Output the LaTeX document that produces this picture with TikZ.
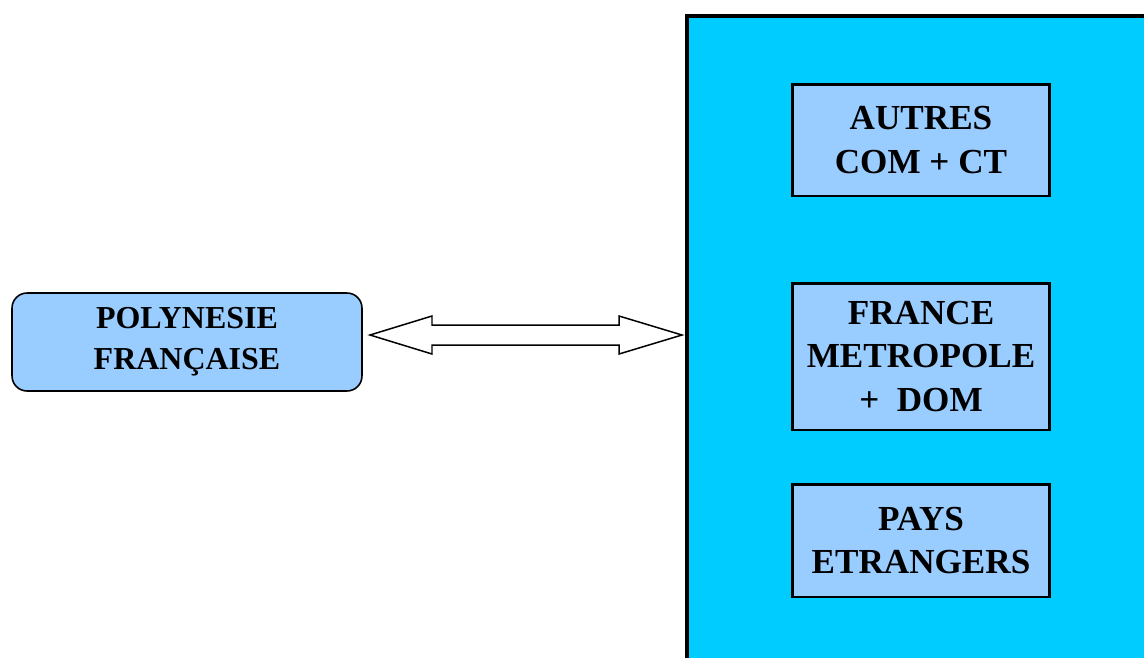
\documentclass[tikz,border=0pt]{standalone}
\usepackage{fontspec}
\setmainfont{Liberation Serif}
\usetikzlibrary{positioning}
\definecolor{zone}{HTML}{00CCFF}
\definecolor{pale}{HTML}{99CCFF}
\begin{document}
\begin{tikzpicture}[x=0.02cm, y=-0.02cm,
		box/.style = {draw, fill=pale, line width=1.7pt, minimum width=5.16cm, align=center, font=\fontsize{20}{25}\selectfont\bfseries},
		home/.style = {draw, fill=pale, line width=0.9pt, rounded corners=0.3cm, minimum width=7cm, minimum height=1.96cm, align=center, font=\fontsize{18.2}{23.5}\selectfont\bfseries}] 
		\useasboundingbox (0,0) rectangle (1144,657);
		\fill[zone] (687,16) rectangle (1150,665);
		\draw[line width=1.9pt] (1150,16) -- (687,16) -- (687,665);
		\node[home] (1) at (187,342) {POLYNESIE\\FRAN\c{C}AISE}; 
		\node[box, minimum height=2.24cm] (2) at (921,140) {AUTRES\\COM + CT}; 
		\node[box, minimum height=2.94cm] (3) at (921,356.5) {FRANCE\\METROPOLE\\+\ \ DOM}; 
		\node[box, minimum height=2.26cm] (4) at (921,540.5) {PAYS\\ETRANGERS}; 
		\coordinate (a) at (370,335);
		\coordinate (b) at (682,335);
		\draw[line width=0.85pt, fill=white] (a) -- ++(62,-19) -- ++(0,9) -- ++(187,0) -- ++(0,-9)
			-- (b) -- ++(-63,19) -- ++(0,-9) -- ++(-187,0) -- ++(0,9) -- cycle;
	\end{tikzpicture}
\end{document}
